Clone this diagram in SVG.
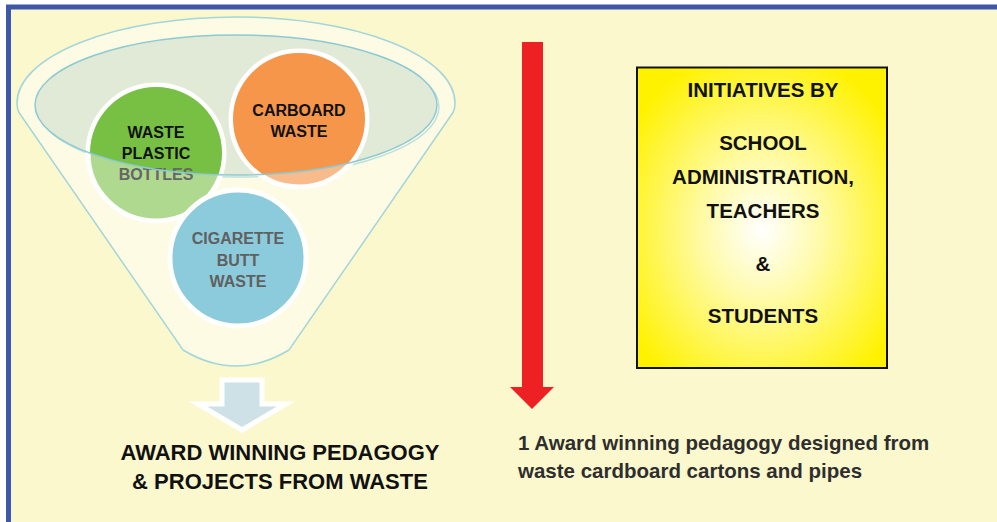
<svg xmlns="http://www.w3.org/2000/svg" width="997" height="522" viewBox="0 0 997 522">
  <defs>
    <radialGradient id="boxGlow" cx="0.5" cy="0.54" r="0.62">
      <stop offset="0" stop-color="#ffffff"/>
      <stop offset="0.35" stop-color="#fffbb0"/>
      <stop offset="1" stop-color="#fff200"/>
    </radialGradient>
    <clipPath id="bowl">
      <ellipse cx="236" cy="105" rx="201" ry="70"/>
    </clipPath>
  </defs>
  <style>
    .lbl { font-family: "Liberation Sans", Arial, sans-serif; font-weight: bold; text-anchor: middle; }
    .left { text-anchor: start; }
    .ring { stroke: #ffffff; stroke-width: 5; }
    .funnel { fill: #fdfbe3; stroke: #a3d6da; stroke-width: 1.5; }
  </style>

  <!-- page background and frame -->
  <rect x="0" y="0" width="997" height="522" fill="#ffffff"/>
  <rect x="8.5" y="7" width="1000" height="530" fill="#fcf8cd" stroke="#3e57a8" stroke-width="5"/>

  <!-- funnel -->
  <g id="funnel">
    <path class="funnel" d="M17,103 A219,86 0 0 1 455,103 Q455,110 452,114 L289,350 Q236,382 183,350 L20,114 Q17,110 17,103 Z"/>
    <ellipse cx="238" cy="107" rx="201" ry="70" fill="none" stroke="#bfe0df" stroke-width="1.5"/>
    <ellipse cx="236" cy="105" rx="201" ry="70" fill="#e1ead6"/>
  </g>

  <g id="plastic">
    <circle cx="156" cy="153" r="68" fill="#aed98e" class="ring"/>
    <circle cx="156" cy="153" r="66" fill="#77c043" clip-path="url(#bowl)"/>
    <text class="lbl" font-size="16" x="156" y="138" fill="#111111">WASTE</text>
    <text class="lbl" font-size="16" x="156" y="159" fill="#111111">PLASTIC</text>
    <text class="lbl" font-size="16" x="156" y="180" fill="#666666">BOTTLES</text>
  </g>

  <g id="cardboard">
    <circle cx="299" cy="119" r="68" fill="#f8bb8b" class="ring"/>
    <circle cx="299" cy="119" r="66" fill="#f5964a" clip-path="url(#bowl)"/>
    <text class="lbl" font-size="16" x="299" y="116" fill="#111111">CARBOARD</text>
    <text class="lbl" font-size="16" x="299" y="137" fill="#111111">WASTE</text>
  </g>

  <g id="cigarette">
    <circle cx="238" cy="258" r="68" fill="#8ccbdb" class="ring"/>
    <text class="lbl" font-size="16" x="238" y="244" fill="#606060">CIGARETTE</text>
    <text class="lbl" font-size="16" x="238" y="266" fill="#606060">BUTT</text>
    <text class="lbl" font-size="16" x="238" y="287" fill="#606060">WASTE</text>
  </g>

  <!-- rim line over the circles -->
  <ellipse cx="236" cy="105" rx="201" ry="70" fill="none" stroke="#8ccad3" stroke-width="1.5"/>

  <!-- connectors -->
  <g id="connectors">
    <polygon points="222,380 262,380 262,404 286,404 242,430 198,404 222,404" fill="#cde1e7" stroke="#ffffff" stroke-width="5" stroke-linejoin="miter"/>
    <polygon points="522,42 543,42 543,387 554,387 532,409 510,387 522,387" fill="#ed2024"/>
  </g>

  <g id="result">
    <text class="lbl" font-size="22" x="280" y="460" fill="#111111">AWARD WINNING PEDAGOGY</text>
    <text class="lbl" font-size="22" x="280" y="489" fill="#111111">&amp; PROJECTS FROM WASTE</text>
  </g>

  <g id="initiatives">
    <rect x="637" y="67.5" width="250" height="300.5" fill="url(#boxGlow)" stroke="#111111" stroke-width="2"/>
    <text class="lbl" font-size="20.5" x="763" y="97" fill="#111111">INITIATIVES BY</text>
    <text class="lbl" font-size="20.5" x="763" y="150" fill="#111111">SCHOOL</text>
    <text class="lbl" font-size="20.5" x="763" y="184" fill="#111111">ADMINISTRATION,</text>
    <text class="lbl" font-size="20.5" x="763" y="218" fill="#111111">TEACHERS</text>
    <text class="lbl" font-size="20.5" x="763" y="271" fill="#111111">&amp;</text>
    <text class="lbl" font-size="20.5" x="763" y="323" fill="#111111">STUDENTS</text>
  </g>

  <g id="caption">
    <text class="lbl left" font-size="20.5" x="518" y="450" fill="#2e2e2e">1 Award winning pedagogy designed from</text>
    <text class="lbl left" font-size="20.5" x="518" y="478" fill="#2e2e2e">waste cardboard cartons and pipes</text>
  </g>
</svg>
